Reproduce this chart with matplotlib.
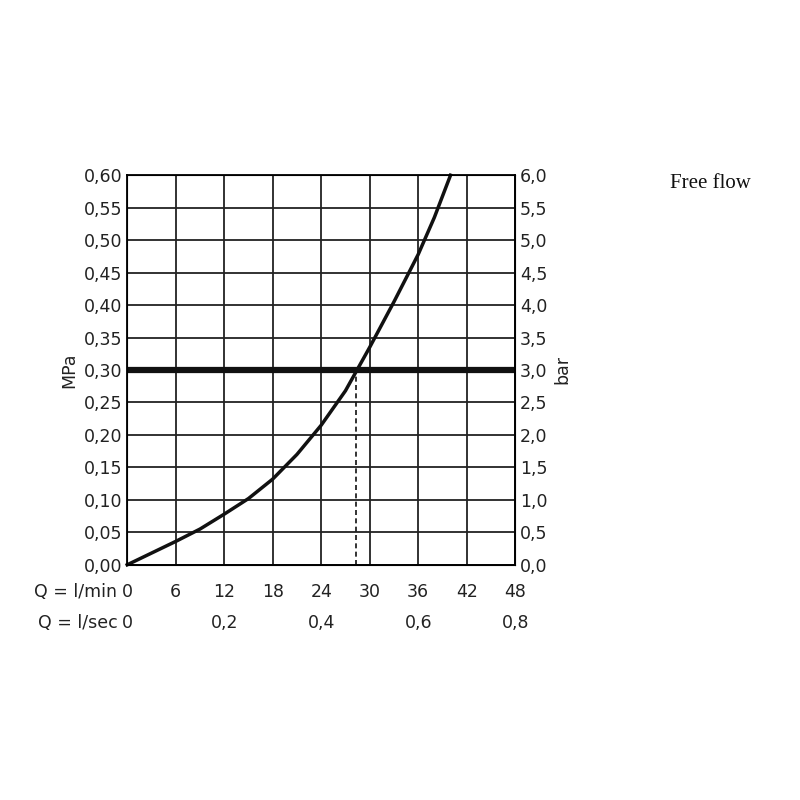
import matplotlib
matplotlib.use('Agg')
import matplotlib.pyplot as plt

# data
flow_lmin = [0, 3, 6, 9, 12, 15, 18, 21, 24, 27, 30, 33, 36, 38, 40]
press_mpa = [0, 0.018, 0.036, 0.055, 0.078, 0.102, 0.132, 0.170, 0.215, 0.268, 0.335, 0.405, 0.478, 0.535, 0.60]
lmin_ticks = [0, 6, 12, 18, 24, 30, 36, 42, 48]
lsec_ticks = [0, 12, 24, 36, 48]
lsec_labels = ['0', '0,2', '0,4', '0,6', '0,8']
mpa_ticks = [i * 0.05 for i in range(13)]
ref_press = 0.30
ref_flow = 28.3

fig = plt.figure(figsize=(8, 8), dpi=100)
ax = fig.add_axes([0.159, 0.294, 0.485, 0.487])
ax.set_xlim(0, 48)
ax.set_ylim(0, 0.60)
ax.set_xticks(lmin_ticks)
ax.set_yticks(mpa_ticks)
ax.grid(color='#222222', lw=1.3)
ax.tick_params(length=0, labelsize=12.5, colors='#222222')
ax.set_xticklabels([])
ax.set_yticklabels([f'{v:.2f}'.replace('.', ',') for v in mpa_ticks])
for s in ax.spines.values():
    s.set_linewidth(1.3)

ax.plot(flow_lmin, press_mpa, color='#111111', lw=2.5, clip_on=False)
ax.axhline(ref_press, color='#111111', lw=4.5)
ax.plot([ref_flow, ref_flow], [0, ref_press], color='#111111', lw=1.2, ls=(0, (3, 2)))

ax2 = ax.twinx()
ax2.set_ylim(0, 6.0)
ax2.set_yticks([i * 0.5 for i in range(13)])
ax2.set_yticklabels([f'{i * 0.5:.1f}'.replace('.', ',') for i in range(13)])
ax2.tick_params(length=0, labelsize=12.5, colors='#222222')
ax2.set_ylabel('bar', fontsize=12.5, color='#222222', labelpad=4)
ax.set_ylabel('MPa', fontsize=12.5, color='#222222', labelpad=4)

tr = ax.get_xaxis_transform()
for v in lmin_ticks:
    ax.text(v, -0.07, str(v), transform=tr, ha='center', va='center', fontsize=12.5, color='#222222')
for v, lab in zip(lsec_ticks, lsec_labels):
    ax.text(v, -0.15, lab, transform=tr, ha='center', va='center', fontsize=12.5, color='#222222')
ax.text(-1.2, -0.07, 'Q = l/min', transform=tr, ha='right', va='center', fontsize=12.5, color='#222222')
ax.text(-1.2, -0.15, 'Q = l/sec', transform=tr, ha='right', va='center', fontsize=12.5, color='#222222')

fig.text(0.837, 0.771, 'Free flow', ha='left', va='center', fontsize=15, family='Liberation Serif', color='#111111')

fig.savefig('out.png', dpi=100, facecolor='white')
